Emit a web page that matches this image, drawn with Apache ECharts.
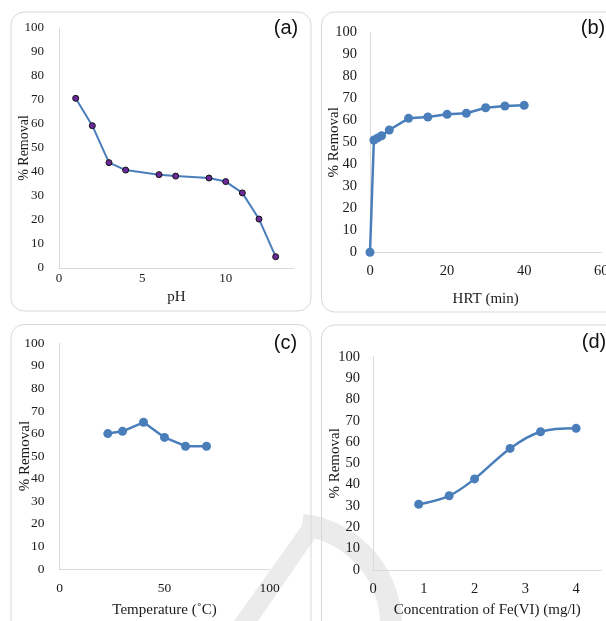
<!DOCTYPE html>
<html>
<head>
<meta charset="utf-8">
<script src="https://cdn.jsdelivr.net/npm/echarts@6/dist/echarts.min.js"></script>
<style>
html,body{margin:0;padding:0;background:#fff;overflow:hidden;}
#chart{width:620px;height:621px;}
</style>
</head>
<body>
<div id="chart"></div>
<script>
// Panel (a): pH
const phX = [1, 2, 3, 4, 6, 7, 9, 10, 11, 12, 13];
const phY = [70.7, 59.3, 43.9, 40.8, 38.9, 38.3, 37.5, 36.0, 31.3, 20.4, 4.7];
// Panel (b): HRT
const hrtX = [0, 1, 2, 3, 5, 10, 15, 20, 25, 30, 35, 40];
const hrtY = [0, 51, 52, 53, 55.6, 60.9, 61.5, 62.7, 63.2, 65.7, 66.5, 66.8];
// Panel (c): Temperature
const tempX = [23, 30, 40, 50, 60, 70];
const tempY = [60, 61, 65, 58.3, 54.4, 54.4];
// Panel (d): Fe(VI) concentration
const feX = [0.9, 1.5, 2, 2.7, 3.3, 4];
const feY = [30.8, 34.8, 42.7, 57, 64.8, 66.4];

const yTitle = '% Removal';
const xTitles = ['pH', 'HRT (min)', 'Temperature (˚C)', 'Concentration of Fe(VI) (mg/l)'];
const panelLabels = ['(a)', '(b)', '(c)', '(d)'];

const pair = (xs, ys) => xs.map((x, i) => [x, ys[i]]);

const serif = 'Liberation Serif';
const axisCol = '#d9d9d9';
const txtCol = '#1a1a1a';
const blue = '#4a7ebb';

const grids = [
  {left: 59, top: 28, width: 235, height: 240},
  {left: 370, top: 32.3, width: 231.3, height: 220},
  {left: 59.5, top: 343.3, width: 210, height: 225.7},
  {left: 373, top: 356.7, width: 228.5, height: 213.3}
];
const xCfg = [
  {max: 14.1, interval: 5, margin: 4, gap: 21.5, fs: 13, nfs: 15},
  {max: 60, interval: 20, margin: 11, gap: 39, fs: 14.5, nfs: 15},
  {max: 100, interval: 50, margin: 12, gap: 33.5, fs: 13.5, nfs: 15},
  {max: 4.5, interval: 1, margin: 12, gap: 33, fs: 14.5, nfs: 15}
];
const yCfg = [
  {margin: 15, gap: 27.5, fs: 13, nfs: 14},
  {margin: 13, gap: 28.5, fs: 14.5, nfs: 15},
  {margin: 15, gap: 27, fs: 13.5, nfs: 15},
  {margin: 13, gap: 30.5, fs: 14.5, nfs: 15}
];

const chart = echarts.init(document.getElementById('chart'));

const xAxes = xCfg.map((c, i) => ({
  type: 'value', gridIndex: i, min: 0, max: c.max, interval: c.interval,
  name: xTitles[i], nameLocation: 'middle', nameGap: c.gap, nameMoveOverlap: false,
  nameTextStyle: {fontFamily: serif, fontSize: c.nfs, color: txtCol},
  axisLine: {show: true, onZero: false, lineStyle: {color: axisCol, width: 1}},
  axisTick: {show: false},
  splitLine: {show: false},
  axisLabel: {fontFamily: serif, fontSize: c.fs, color: txtCol, margin: c.margin,
    showMaxLabel: (i === 1 || i === 2), alignMaxLabel: 'center', alignMinLabel: 'center'}
}));
const yAxes = yCfg.map((c, i) => ({
  type: 'value', gridIndex: i, min: 0, max: 100, interval: 10,
  name: yTitle, nameLocation: 'middle', nameGap: c.gap, nameMoveOverlap: false,
  nameTextStyle: {fontFamily: serif, fontSize: c.nfs, color: txtCol},
  axisLine: {show: true, lineStyle: {color: axisCol, width: 1}},
  axisTick: {show: false},
  splitLine: {show: false},
  axisLabel: {fontFamily: serif, fontSize: c.fs, color: txtCol, margin: c.margin}
}));

const datasets = [pair(phX, phY), pair(hrtX, hrtY), pair(tempX, tempY), pair(feX, feY)];
const series = datasets.map((d, i) => ({
  type: 'line', xAxisIndex: i, yAxisIndex: i, data: d,
  smooth: i === 3 ? 0.35 : false,
  symbol: 'circle',
  symbolSize: i === 0 ? 6 : 9,
  lineStyle: {color: blue, width: i === 0 ? 2 : 2.5},
  itemStyle: i === 0 ? {color: '#6a2a9a', borderColor: '#111', borderWidth: 1}
                     : {color: blue, borderWidth: 0},
  animation: false,
  z: 3
}));

const boxes = [
  {x: 11, y: 12, w: 300, h: 299},
  {x: 321.5, y: 12, w: 300, h: 300},
  {x: 11, y: 324.5, w: 300, h: 320},
  {x: 321.5, y: 325, w: 300, h: 320}
];
const labelPos = [[286, 28], [593, 28], [285.5, 343], [594, 342]];

const graphic = [];
// faint watermark strokes
graphic.push({type: 'polygon', silent: true, z: 0,
  shape: {points: [[234, 621], [258, 621], [318, 534], [306, 520]]},
  style: {fill: '#ebebeb'}});
graphic.push({type: 'arc', silent: true, z: 0,
  shape: {cx: 290, cy: 625, r: 101, startAngle: -1.45, endAngle: 0.05, clockwise: true},
  style: {stroke: '#ebebeb', lineWidth: 22, fill: null}});
boxes.forEach(b => graphic.push({
  type: 'rect', silent: true, z: 1,
  shape: {x: b.x, y: b.y, width: b.w, height: b.h, r: 13},
  style: {fill: null, stroke: '#d9d9d9', lineWidth: 1}
}));
labelPos.forEach((p, i) => graphic.push({
  type: 'text', silent: true, z: 5, x: p[0], y: p[1],
  style: {text: panelLabels[i], font: '20px "Liberation Sans"', fill: '#111',
    textAlign: 'center', textVerticalAlign: 'middle'}
}));

chart.setOption({
  animation: false,
  backgroundColor: '#fff',
  grid: grids.map(g => Object.assign({containLabel: false}, g)),
  xAxis: xAxes,
  yAxis: yAxes,
  series: series,
  graphic: graphic
});
</script>
</body>
</html>
